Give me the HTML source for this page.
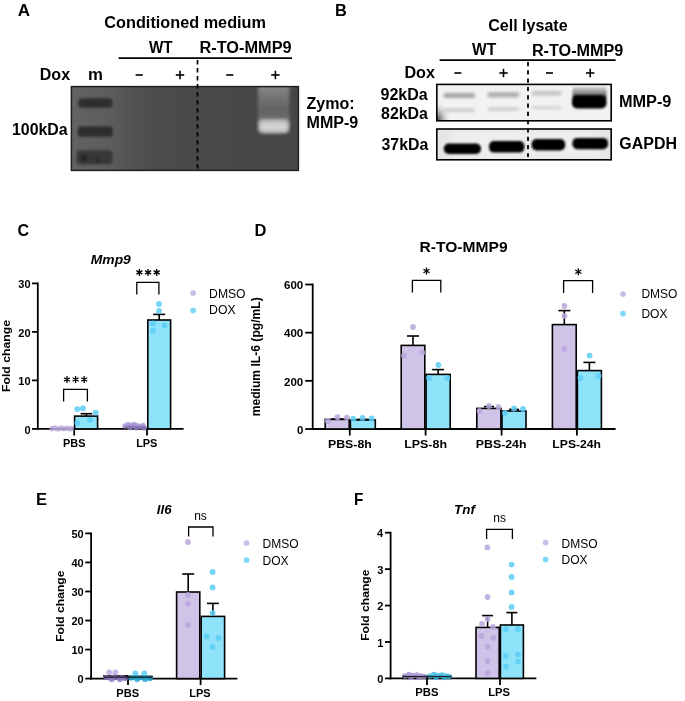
<!DOCTYPE html>
<html><head><meta charset="utf-8"><style>
html,body{margin:0;padding:0;background:#fff;}
body{width:685px;height:701px;overflow:hidden;}
svg{display:block;font-family:"Liberation Sans",sans-serif;}
</style></head><body>
<svg width="685" height="701" viewBox="0 0 685 701"><g style="will-change:transform">
<text x="17.77" y="15.80" font-size="17" font-weight="bold" font-style="normal" textLength="12.29" lengthAdjust="spacingAndGlyphs" fill="#000" >A</text>
<text x="104.35" y="27.70" font-size="16.5" font-weight="bold" font-style="normal" textLength="161.65" lengthAdjust="spacingAndGlyphs" fill="#000" >Conditioned medium</text>
<text x="148.96" y="52.80" font-size="16" font-weight="bold" font-style="normal" textLength="23.59" lengthAdjust="spacingAndGlyphs" fill="#000" >WT</text>
<text x="199.50" y="52.80" font-size="16" font-weight="bold" font-style="normal" textLength="92.08" lengthAdjust="spacingAndGlyphs" fill="#000" >R-TO-MMP9</text>
<line x1="118.6" y1="58.2" x2="292" y2="58.2" stroke="#000" stroke-width="1.7" />
<text x="39.82" y="79.60" font-size="16" font-weight="bold" font-style="normal" textLength="30.23" lengthAdjust="spacingAndGlyphs" fill="#000" >Dox</text>
<text x="88.01" y="79.60" font-size="16" font-weight="bold" font-style="normal" textLength="14.93" lengthAdjust="spacingAndGlyphs" fill="#000" >m</text>
<line x1="135.6" y1="75" x2="142.79999999999998" y2="75" stroke="#000" stroke-width="1.6" />
<line x1="226.2" y1="75" x2="233.39999999999998" y2="75" stroke="#000" stroke-width="1.6" />
<line x1="175.8" y1="75" x2="184.2" y2="75" stroke="#000" stroke-width="1.6" />
<line x1="180" y1="70.8" x2="180" y2="79.2" stroke="#000" stroke-width="1.6" />
<line x1="271.2" y1="75" x2="279.59999999999997" y2="75" stroke="#000" stroke-width="1.6" />
<line x1="275.4" y1="70.8" x2="275.4" y2="79.2" stroke="#000" stroke-width="1.6" />
<text x="12.01" y="135.00" font-size="16" font-weight="bold" font-style="normal" textLength="55.68" lengthAdjust="spacingAndGlyphs" fill="#000" >100kDa</text>
<text x="306.42" y="108.70" font-size="16" font-weight="bold" font-style="normal" textLength="48.21" lengthAdjust="spacingAndGlyphs" fill="#000" >Zymo:</text>
<text x="306.62" y="127.70" font-size="16" font-weight="bold" font-style="normal" textLength="51.68" lengthAdjust="spacingAndGlyphs" fill="#000" >MMP-9</text>
<defs><linearGradient id="gelg" x1="0" x2="1" y1="0" y2="0"><stop offset="0" stop-color="#636363"/><stop offset="0.17" stop-color="#5d5d5d"/><stop offset="0.25" stop-color="#545454"/><stop offset="0.35" stop-color="#4c4c4c"/><stop offset="0.6" stop-color="#494949"/><stop offset="1" stop-color="#464646"/></linearGradient><linearGradient id="haze" x1="0" x2="0" y1="0" y2="1"><stop offset="0" stop-color="#8e8e8e"/><stop offset="0.3" stop-color="#787878"/><stop offset="0.65" stop-color="#626262"/><stop offset="1" stop-color="#727272"/></linearGradient><linearGradient id="smear" x1="0" x2="0" y1="0" y2="1"><stop offset="0" stop-color="#d0d0d0"/><stop offset="0.5" stop-color="#8c8c8c"/><stop offset="1" stop-color="#222"/></linearGradient><filter id="b2" x="-50%" y="-50%" width="200%" height="200%"><feGaussianBlur stdDeviation="1.6"/></filter><filter id="b3" x="-50%" y="-50%" width="200%" height="200%"><feGaussianBlur stdDeviation="2.5"/></filter><filter id="b1" x="-50%" y="-50%" width="200%" height="200%"><feGaussianBlur stdDeviation="1.0"/></filter><filter id="b15" x="-50%" y="-50%" width="200%" height="200%"><feGaussianBlur stdDeviation="1.3"/></filter><filter id="b4" x="-50%" y="-50%" width="200%" height="200%"><feGaussianBlur stdDeviation="4"/></filter><clipPath id="gelclip"><rect x="71.4" y="86.4" width="227" height="84"/></clipPath><clipPath id="blot1"><rect x="436.8" y="84.4" width="174.4" height="36.4"/></clipPath><clipPath id="blot2"><rect x="436.8" y="129" width="174.4" height="30.8"/></clipPath></defs>
<rect x="71.40" y="86.40" width="227.00" height="84.00" fill="url(#gelg)" />
<g clip-path="url(#gelclip)">
<rect x="60" y="80" width="300" height="7" fill="#6a6a6a" filter="url(#b2)" opacity="0.6"/>
<rect x="78.5" y="98.3" width="33.8" height="9.4" rx="3" fill="#2e2e2e" filter="url(#b15)"/>
<rect x="77.8" y="126.4" width="35" height="10.4" rx="3" fill="#2e2e2e" filter="url(#b15)"/>
<rect x="76.5" y="150" width="36" height="14.5" rx="4" fill="#383838" filter="url(#b2)"/>
<circle cx="84" cy="158" r="3" fill="#222" filter="url(#b1)"/><circle cx="98" cy="160" r="2.5" fill="#2a2a2a" filter="url(#b1)"/>
<rect x="258" y="82" width="31.5" height="42" fill="url(#haze)" filter="url(#b2)"/>
<rect x="258" y="119" width="31.5" height="14.5" rx="5" fill="#b4b4b4" filter="url(#b2)"/>
<rect x="261" y="122.5" width="26" height="8" rx="4" fill="#d2d2d2" filter="url(#b2)"/>
</g>
<rect x="71.4" y="86.6" width="227" height="83.8" fill="none" stroke="#1e1e1e" stroke-width="1.5"/>
<line x1="197.5" y1="60.1" x2="197.5" y2="170.5" stroke="#000" stroke-width="1.7" stroke-dasharray="4.4,3.6"/>
<text x="334.99" y="15.80" font-size="17" font-weight="bold" font-style="normal" textLength="11.84" lengthAdjust="spacingAndGlyphs" fill="#000" >B</text>
<text x="488.16" y="30.80" font-size="16.5" font-weight="bold" font-style="normal" textLength="79.46" lengthAdjust="spacingAndGlyphs" fill="#000" >Cell lysate</text>
<text x="471.96" y="55.40" font-size="16" font-weight="bold" font-style="normal" textLength="24.19" lengthAdjust="spacingAndGlyphs" fill="#000" >WT</text>
<text x="531.91" y="55.50" font-size="16" font-weight="bold" font-style="normal" textLength="91.47" lengthAdjust="spacingAndGlyphs" fill="#000" >R-TO-MMP9</text>
<line x1="439.6" y1="60.2" x2="615.6" y2="60.2" stroke="#000" stroke-width="1.7" />
<text x="404.41" y="77.70" font-size="16" font-weight="bold" font-style="normal" textLength="30.54" lengthAdjust="spacingAndGlyphs" fill="#000" >Dox</text>
<line x1="454.4" y1="73" x2="461.4" y2="73" stroke="#000" stroke-width="1.6" />
<line x1="546" y1="73" x2="553" y2="73" stroke="#000" stroke-width="1.6" />
<line x1="499.3" y1="73" x2="507.7" y2="73" stroke="#000" stroke-width="1.6" />
<line x1="503.5" y1="68.8" x2="503.5" y2="77.2" stroke="#000" stroke-width="1.6" />
<line x1="586.0" y1="73" x2="594.4000000000001" y2="73" stroke="#000" stroke-width="1.6" />
<line x1="590.2" y1="68.8" x2="590.2" y2="77.2" stroke="#000" stroke-width="1.6" />
<text x="380.54" y="100.40" font-size="16" font-weight="bold" font-style="normal" textLength="47.27" lengthAdjust="spacingAndGlyphs" fill="#000" >92kDa</text>
<text x="381.08" y="118.80" font-size="16" font-weight="bold" font-style="normal" textLength="46.83" lengthAdjust="spacingAndGlyphs" fill="#000" >82kDa</text>
<text x="381.54" y="149.60" font-size="16" font-weight="bold" font-style="normal" textLength="46.67" lengthAdjust="spacingAndGlyphs" fill="#000" >37kDa</text>
<text x="618.90" y="107.00" font-size="16" font-weight="bold" font-style="normal" textLength="52.51" lengthAdjust="spacingAndGlyphs" fill="#000" >MMP-9</text>
<text x="619.36" y="148.50" font-size="16" font-weight="bold" font-style="normal" textLength="57.60" lengthAdjust="spacingAndGlyphs" fill="#000" >GAPDH</text>
<defs><radialGradient id="smudge" cx="0" cy="1" r="1"><stop offset="0" stop-color="#333" stop-opacity="0.95"/><stop offset="0.45" stop-color="#777" stop-opacity="0.5"/><stop offset="1" stop-color="#eee" stop-opacity="0"/></radialGradient></defs>
<rect x="436.80" y="84.40" width="174.40" height="36.40" fill="#f2f2f2" />
<g clip-path="url(#blot1)">
<rect x="437" y="100" width="14" height="21" fill="url(#smudge)"/>
<rect x="443.5" y="93.1" width="31.5" height="5" rx="2" fill="#a6a6a6" filter="url(#b2)"/>
<rect x="487.5" y="92.3" width="31.5" height="5" rx="2" fill="#acacac" filter="url(#b2)"/>
<rect x="531.5" y="91.0" width="30.0" height="4.4" rx="2" fill="#c4c4c4" filter="url(#b2)"/>
<rect x="443.5" y="108.3" width="31.5" height="3.8" rx="2" fill="#cbcbcb" filter="url(#b2)"/>
<rect x="487.5" y="107.3" width="31.5" height="3.8" rx="2" fill="#cdcdcd" filter="url(#b2)"/>
<rect x="531.5" y="106.0" width="30.0" height="3.6" rx="2" fill="#d4d4d4" filter="url(#b2)"/>
<rect x="572.5" y="87" width="34" height="12" rx="3" fill="url(#smear)" filter="url(#b15)"/>
<rect x="572" y="95.2" width="34.5" height="13.2" rx="5" fill="#000" filter="url(#b15)"/>
</g>
<rect x="436.80" y="84.40" width="174.40" height="36.40" fill="none" stroke="#000" stroke-width="1.6" />
<rect x="436.80" y="129.00" width="174.40" height="30.80" fill="#e6e6e6" />
<g clip-path="url(#blot2)">
<rect x="450" y="131" width="150" height="26" fill="#efefef" filter="url(#b4)"/>
<rect x="443.8" y="143.6" width="37.19999999999999" height="10.400000000000006" rx="5" fill="#000" filter="url(#b15)"/>
<rect x="489" y="141" width="35.39999999999998" height="11.599999999999994" rx="5" fill="#000" filter="url(#b15)"/>
<rect x="531.6" y="139" width="33.60000000000002" height="11.400000000000006" rx="5" fill="#000" filter="url(#b15)"/>
<rect x="572.4" y="137.9" width="35.60000000000002" height="11.400000000000006" rx="5" fill="#000" filter="url(#b15)"/>
</g>
<rect x="436.80" y="129.00" width="174.40" height="30.80" fill="none" stroke="#000" stroke-width="1.6" />
<line x1="528" y1="62" x2="528" y2="157" stroke="#000" stroke-width="1.8" stroke-dasharray="4.2,4.1"/>
<text x="17.56" y="235.60" font-size="16.5" font-weight="bold" font-style="normal" textLength="11.58" lengthAdjust="spacingAndGlyphs" fill="#000" >C</text>
<text x="90.76" y="264.10" font-size="13.5" font-weight="bold" font-style="italic" textLength="40.10" lengthAdjust="spacingAndGlyphs" fill="#000" >Mmp9</text>
<line x1="37.8" y1="282.5" x2="37.8" y2="429.79999999999995" stroke="#000" stroke-width="1.8" />
<line x1="31.999999999999996" y1="428.9" x2="37.8" y2="428.9" stroke="#000" stroke-width="1.8" />
<text x="24.44" y="433.60" font-size="11" font-weight="bold" fill="#000">0</text>
<line x1="31.999999999999996" y1="380.4" x2="37.8" y2="380.4" stroke="#000" stroke-width="1.8" />
<text x="18.33" y="385.10" font-size="11" font-weight="bold" fill="#000">10</text>
<line x1="31.999999999999996" y1="331.9" x2="37.8" y2="331.9" stroke="#000" stroke-width="1.8" />
<text x="18.33" y="336.60" font-size="11" font-weight="bold" fill="#000">20</text>
<line x1="31.999999999999996" y1="283.4" x2="37.8" y2="283.4" stroke="#000" stroke-width="1.8" />
<text x="18.33" y="288.10" font-size="11" font-weight="bold" fill="#000">30</text>
<text transform="translate(9.97,392.03) rotate(-90)" x="0" y="0" font-size="11" font-weight="bold" textLength="72.05" lengthAdjust="spacingAndGlyphs">Fold change</text>
<line x1="36.9" y1="428.9" x2="183.6" y2="428.9" stroke="#000" stroke-width="1.8" />
<line x1="74.2" y1="428.9" x2="74.2" y2="435.5" stroke="#000" stroke-width="1.8" />
<line x1="147" y1="428.9" x2="147" y2="435.5" stroke="#000" stroke-width="1.8" />
<text x="63.07" y="446.70" font-size="11" font-weight="bold" font-style="normal" textLength="22.35" lengthAdjust="spacingAndGlyphs" fill="#000" >PBS</text>
<text x="136.16" y="446.70" font-size="11" font-weight="bold" font-style="normal" textLength="21.27" lengthAdjust="spacingAndGlyphs" fill="#000" >LPS</text>
<circle cx="52" cy="428.5" r="2.7" fill="#b9a6dc" fill-opacity="0.75"/>
<circle cx="55" cy="428" r="2.7" fill="#b9a6dc" fill-opacity="0.75"/>
<circle cx="58" cy="429" r="2.7" fill="#b9a6dc" fill-opacity="0.75"/>
<circle cx="61" cy="428" r="2.7" fill="#b9a6dc" fill-opacity="0.75"/>
<circle cx="64" cy="428.8" r="2.7" fill="#b9a6dc" fill-opacity="0.75"/>
<circle cx="67" cy="428.2" r="2.7" fill="#b9a6dc" fill-opacity="0.75"/>
<circle cx="70" cy="428.8" r="2.7" fill="#b9a6dc" fill-opacity="0.75"/>
<circle cx="72" cy="428.5" r="2.7" fill="#b9a6dc" fill-opacity="0.75"/>
<rect x="74.60" y="416.10" width="23.00" height="12.80" fill="#8ee2fa" stroke="#000" stroke-width="1.6" />
<line x1="86.4" y1="416.1" x2="86.4" y2="413.7" stroke="#000" stroke-width="1.6" />
<line x1="80.60000000000001" y1="413.7" x2="92.2" y2="413.7" stroke="#000" stroke-width="1.6" />
<circle cx="77.3" cy="409.1" r="2.9" fill="#5ccdf5" fill-opacity="0.85"/>
<circle cx="82.9" cy="408.4" r="2.9" fill="#5ccdf5" fill-opacity="0.85"/>
<circle cx="95.7" cy="412.6" r="2.9" fill="#5ccdf5" fill-opacity="0.85"/>
<circle cx="77.3" cy="422.8" r="2.9" fill="#5ccdf5" fill-opacity="0.85"/>
<circle cx="89.9" cy="420.1" r="2.9" fill="#5ccdf5" fill-opacity="0.85"/>
<circle cx="125" cy="426" r="2.7" fill="#a08cd0" fill-opacity="0.75"/>
<circle cx="128" cy="424.5" r="2.7" fill="#a08cd0" fill-opacity="0.75"/>
<circle cx="131" cy="425.5" r="2.7" fill="#a08cd0" fill-opacity="0.75"/>
<circle cx="134" cy="424.5" r="2.7" fill="#a08cd0" fill-opacity="0.75"/>
<circle cx="137" cy="425.5" r="2.7" fill="#a08cd0" fill-opacity="0.75"/>
<circle cx="140" cy="426.5" r="2.7" fill="#a08cd0" fill-opacity="0.75"/>
<circle cx="143" cy="425.5" r="2.7" fill="#a08cd0" fill-opacity="0.75"/>
<circle cx="130" cy="427.5" r="2.7" fill="#a08cd0" fill-opacity="0.75"/>
<circle cx="136" cy="428" r="2.7" fill="#a08cd0" fill-opacity="0.75"/>
<circle cx="144" cy="428" r="2.7" fill="#a08cd0" fill-opacity="0.75"/>
<line x1="123.5" y1="427" x2="146.5" y2="427" stroke="#6a58a0" stroke-width="1" />
<rect x="147.80" y="320.00" width="22.80" height="108.90" fill="#8ee2fa" stroke="#000" stroke-width="1.6" />
<line x1="159.2" y1="320" x2="159.2" y2="314.4" stroke="#000" stroke-width="1.6" />
<line x1="153.2" y1="314.4" x2="165.2" y2="314.4" stroke="#000" stroke-width="1.6" />
<circle cx="159" cy="304" r="2.9" fill="#5ccdf5" fill-opacity="0.85"/>
<circle cx="159" cy="311" r="2.9" fill="#5ccdf5" fill-opacity="0.85"/>
<circle cx="153" cy="323.4" r="2.9" fill="#5ccdf5" fill-opacity="0.85"/>
<circle cx="164.6" cy="325.6" r="2.9" fill="#5ccdf5" fill-opacity="0.85"/>
<circle cx="153" cy="330.6" r="2.9" fill="#5ccdf5" fill-opacity="0.85"/>
<path d="M63.6,401.4V389.4H87.4V401.4" stroke="#000" stroke-width="1.3" fill="none"/>
<path d="M67.00,376.00L67.00,383.00M63.97,377.75L70.03,381.25M70.03,377.75L63.97,381.25" stroke="#000" stroke-width="1.3" fill="none"/>
<path d="M75.60,376.00L75.60,383.00M72.57,377.75L78.63,381.25M78.63,377.75L72.57,381.25" stroke="#000" stroke-width="1.3" fill="none"/>
<path d="M84.20,376.00L84.20,383.00M81.17,377.75L87.23,381.25M87.23,377.75L81.17,381.25" stroke="#000" stroke-width="1.3" fill="none"/>
<path d="M136.8,294.5V282.4H158.9V294.5" stroke="#000" stroke-width="1.3" fill="none"/>
<path d="M139.40,268.90L139.40,275.90M136.37,270.65L142.43,274.15M142.43,270.65L136.37,274.15" stroke="#000" stroke-width="1.3" fill="none"/>
<path d="M148.10,268.90L148.10,275.90M145.07,270.65L151.13,274.15M151.13,270.65L145.07,274.15" stroke="#000" stroke-width="1.3" fill="none"/>
<path d="M156.70,268.90L156.70,275.90M153.67,270.65L159.73,274.15M159.73,270.65L153.67,274.15" stroke="#000" stroke-width="1.3" fill="none"/>
<circle cx="193.1" cy="293" r="2.85" fill="#cbbde8" fill-opacity="1"/>
<circle cx="193.1" cy="310.5" r="2.85" fill="#7dd9f6" fill-opacity="1"/>
<text x="209.10" y="297.70" font-size="12" font-weight="normal" font-style="normal" textLength="36.48" lengthAdjust="spacingAndGlyphs" fill="#000" >DMSO</text>
<text x="209.09" y="314.30" font-size="12" font-weight="normal" font-style="normal" textLength="26.48" lengthAdjust="spacingAndGlyphs" fill="#000" >DOX</text>
<text x="254.49" y="235.60" font-size="16.5" font-weight="bold" font-style="normal" fill="#000" >D</text>
<text x="419.55" y="251.80" font-size="14.5" font-weight="bold" font-style="normal" textLength="88.01" lengthAdjust="spacingAndGlyphs" fill="#000" >R-TO-MMP9</text>
<line x1="312.7" y1="283.6" x2="312.7" y2="429.9" stroke="#000" stroke-width="1.8" />
<line x1="305.2" y1="429.0" x2="312.7" y2="429.0" stroke="#000" stroke-width="1.8" />
<text x="296.88" y="433.70" font-size="11.5" font-weight="bold" fill="#000">0</text>
<line x1="305.2" y1="380.8333333333333" x2="312.7" y2="380.8333333333333" stroke="#000" stroke-width="1.8" />
<text x="284.08" y="385.53" font-size="11.5" font-weight="bold" fill="#000">200</text>
<line x1="305.2" y1="332.66666666666663" x2="312.7" y2="332.66666666666663" stroke="#000" stroke-width="1.8" />
<text x="284.08" y="337.37" font-size="11.5" font-weight="bold" fill="#000">400</text>
<line x1="305.2" y1="284.5" x2="312.7" y2="284.5" stroke="#000" stroke-width="1.8" />
<text x="284.08" y="289.20" font-size="11.5" font-weight="bold" fill="#000">600</text>
<text transform="translate(259.70,416.29) rotate(-90)" x="0" y="0" font-size="12" font-weight="bold" textLength="119.00" lengthAdjust="spacingAndGlyphs">medium IL-6 (pg/mL)</text>
<line x1="311.8" y1="429" x2="615.6" y2="429" stroke="#000" stroke-width="1.8" />
<line x1="349.8" y1="429" x2="349.8" y2="435.5" stroke="#000" stroke-width="1.8" />
<line x1="425.6" y1="429" x2="425.6" y2="435.5" stroke="#000" stroke-width="1.8" />
<line x1="501.6" y1="429" x2="501.6" y2="435.5" stroke="#000" stroke-width="1.8" />
<line x1="576.9" y1="429" x2="576.9" y2="435.5" stroke="#000" stroke-width="1.8" />
<rect x="325.20" y="419.40" width="24.00" height="9.60" fill="#cfc3e8" stroke="#000" stroke-width="1.6" />
<rect x="350.40" y="419.90" width="24.90" height="9.10" fill="#8ee2fa" stroke="#000" stroke-width="1.6" />
<rect x="401.20" y="345.40" width="23.60" height="83.60" fill="#cfc3e8" stroke="#000" stroke-width="1.6" />
<rect x="426.10" y="374.40" width="24.10" height="54.60" fill="#8ee2fa" stroke="#000" stroke-width="1.6" />
<line x1="413.0" y1="345.4" x2="413.0" y2="336" stroke="#000" stroke-width="1.6" />
<line x1="407.0" y1="336" x2="419.0" y2="336" stroke="#000" stroke-width="1.6" />
<line x1="438.15" y1="374.4" x2="438.15" y2="369.6" stroke="#000" stroke-width="1.6" />
<line x1="432.15" y1="369.6" x2="444.15" y2="369.6" stroke="#000" stroke-width="1.6" />
<rect x="476.80" y="408.40" width="24.10" height="20.60" fill="#cfc3e8" stroke="#000" stroke-width="1.6" />
<rect x="502.00" y="411.00" width="24.00" height="18.00" fill="#8ee2fa" stroke="#000" stroke-width="1.6" />
<rect x="552.40" y="324.60" width="23.80" height="104.40" fill="#cfc3e8" stroke="#000" stroke-width="1.6" />
<rect x="577.40" y="370.60" width="24.00" height="58.40" fill="#8ee2fa" stroke="#000" stroke-width="1.6" />
<line x1="564.3" y1="324.6" x2="564.3" y2="310.6" stroke="#000" stroke-width="1.6" />
<line x1="558.3" y1="310.6" x2="570.3" y2="310.6" stroke="#000" stroke-width="1.6" />
<line x1="589.4" y1="370.6" x2="589.4" y2="362.4" stroke="#000" stroke-width="1.6" />
<line x1="583.4" y1="362.4" x2="595.4" y2="362.4" stroke="#000" stroke-width="1.6" />
<line x1="337.4" y1="419.4" x2="337.4" y2="419" stroke="#000" stroke-width="1.6" />
<line x1="331.4" y1="419" x2="343.4" y2="419" stroke="#000" stroke-width="1.6" />
<line x1="362.8" y1="419.9" x2="362.8" y2="419.4" stroke="#000" stroke-width="1.6" />
<line x1="356.8" y1="419.4" x2="368.8" y2="419.4" stroke="#000" stroke-width="1.6" />
<line x1="489" y1="408.4" x2="489" y2="406.6" stroke="#000" stroke-width="1.6" />
<line x1="484" y1="406.6" x2="494" y2="406.6" stroke="#000" stroke-width="1.6" />
<line x1="514" y1="411" x2="514" y2="409.4" stroke="#000" stroke-width="1.6" />
<line x1="509" y1="409.4" x2="519" y2="409.4" stroke="#000" stroke-width="1.6" />
<circle cx="413" cy="327" r="2.9" fill="#b9a6dc" fill-opacity="0.85"/>
<circle cx="404" cy="355.4" r="2.9" fill="#b9a6dc" fill-opacity="0.85"/>
<circle cx="422.4" cy="352.6" r="2.9" fill="#b9a6dc" fill-opacity="0.85"/>
<circle cx="327.8" cy="421" r="2.9" fill="#b9a6dc" fill-opacity="0.85"/>
<circle cx="337.5" cy="417.2" r="2.9" fill="#b9a6dc" fill-opacity="0.85"/>
<circle cx="346.9" cy="417.6" r="2.9" fill="#b9a6dc" fill-opacity="0.85"/>
<circle cx="564.4" cy="306" r="2.9" fill="#b9a6dc" fill-opacity="0.85"/>
<circle cx="564.4" cy="316" r="2.9" fill="#b9a6dc" fill-opacity="0.85"/>
<circle cx="564.4" cy="349" r="2.9" fill="#b9a6dc" fill-opacity="0.85"/>
<circle cx="479.5" cy="411" r="2.9" fill="#b9a6dc" fill-opacity="0.85"/>
<circle cx="489" cy="406" r="2.9" fill="#b9a6dc" fill-opacity="0.85"/>
<circle cx="498.5" cy="407" r="2.9" fill="#b9a6dc" fill-opacity="0.85"/>
<circle cx="438.4" cy="365" r="2.9" fill="#5ccdf5" fill-opacity="0.85"/>
<circle cx="429" cy="378" r="2.9" fill="#5ccdf5" fill-opacity="0.85"/>
<circle cx="447.4" cy="378" r="2.9" fill="#5ccdf5" fill-opacity="0.85"/>
<circle cx="353.3" cy="418.7" r="2.9" fill="#5ccdf5" fill-opacity="0.85"/>
<circle cx="362.5" cy="417.9" r="2.9" fill="#5ccdf5" fill-opacity="0.85"/>
<circle cx="371.7" cy="418.4" r="2.9" fill="#5ccdf5" fill-opacity="0.85"/>
<circle cx="589.6" cy="355.6" r="2.9" fill="#5ccdf5" fill-opacity="0.85"/>
<circle cx="580.4" cy="378" r="2.9" fill="#5ccdf5" fill-opacity="0.85"/>
<circle cx="598.6" cy="376" r="2.9" fill="#5ccdf5" fill-opacity="0.85"/>
<circle cx="505" cy="413" r="2.9" fill="#5ccdf5" fill-opacity="0.85"/>
<circle cx="514" cy="408.5" r="2.9" fill="#5ccdf5" fill-opacity="0.85"/>
<circle cx="523" cy="409" r="2.9" fill="#5ccdf5" fill-opacity="0.85"/>
<text x="327.97" y="447.60" font-size="11.6" font-weight="bold" font-style="normal" textLength="43.78" lengthAdjust="spacingAndGlyphs" fill="#000" >PBS-8h</text>
<text x="404.16" y="447.60" font-size="11.6" font-weight="bold" font-style="normal" textLength="42.89" lengthAdjust="spacingAndGlyphs" fill="#000" >LPS-8h</text>
<text x="475.77" y="447.60" font-size="11.6" font-weight="bold" font-style="normal" textLength="50.77" lengthAdjust="spacingAndGlyphs" fill="#000" >PBS-24h</text>
<text x="552.38" y="447.60" font-size="11.6" font-weight="bold" font-style="normal" textLength="48.66" lengthAdjust="spacingAndGlyphs" fill="#000" >LPS-24h</text>
<path d="M412.4,292.6V280.4H440.8V292.6" stroke="#000" stroke-width="1.3" fill="none"/>
<path d="M426.50,267.50L426.50,274.50M423.47,269.25L429.53,272.75M429.53,269.25L423.47,272.75" stroke="#000" stroke-width="1.3" fill="none"/>
<path d="M563.6,293V280.6H592.6V293" stroke="#000" stroke-width="1.3" fill="none"/>
<path d="M578.30,268.20L578.30,275.20M575.27,269.95L581.33,273.45M581.33,269.95L575.27,273.45" stroke="#000" stroke-width="1.3" fill="none"/>
<circle cx="623" cy="294" r="2.85" fill="#cbbde8" fill-opacity="1"/>
<circle cx="623" cy="313.6" r="2.85" fill="#7dd9f6" fill-opacity="1"/>
<text x="641.41" y="298.40" font-size="12" font-weight="normal" font-style="normal" fill="#000" >DMSO</text>
<text x="641.41" y="318.00" font-size="12" font-weight="normal" font-style="normal" fill="#000" >DOX</text>
<text x="35.89" y="505.00" font-size="16.5" font-weight="bold" font-style="normal" fill="#000" >E</text>
<text x="156.77" y="514.40" font-size="13" font-weight="bold" font-style="italic" textLength="14.76" lengthAdjust="spacingAndGlyphs" fill="#000" >Il6</text>
<line x1="91.1" y1="532.5" x2="91.1" y2="679.5" stroke="#000" stroke-width="1.8" />
<line x1="85.3" y1="678.6" x2="91.1" y2="678.6" stroke="#000" stroke-width="1.8" />
<text x="77.53" y="683.30" font-size="11" font-weight="bold" fill="#000">0</text>
<line x1="85.3" y1="649.5600000000001" x2="91.1" y2="649.5600000000001" stroke="#000" stroke-width="1.8" />
<text x="71.43" y="654.26" font-size="11" font-weight="bold" fill="#000">10</text>
<line x1="85.3" y1="620.52" x2="91.1" y2="620.52" stroke="#000" stroke-width="1.8" />
<text x="71.43" y="625.22" font-size="11" font-weight="bold" fill="#000">20</text>
<line x1="85.3" y1="591.48" x2="91.1" y2="591.48" stroke="#000" stroke-width="1.8" />
<text x="71.43" y="596.18" font-size="11" font-weight="bold" fill="#000">30</text>
<line x1="85.3" y1="562.44" x2="91.1" y2="562.44" stroke="#000" stroke-width="1.8" />
<text x="71.43" y="567.14" font-size="11" font-weight="bold" fill="#000">40</text>
<line x1="85.3" y1="533.4" x2="91.1" y2="533.4" stroke="#000" stroke-width="1.8" />
<text x="71.43" y="538.10" font-size="11" font-weight="bold" fill="#000">50</text>
<text transform="translate(63.58,641.82) rotate(-90)" x="0" y="0" font-size="11" font-weight="bold" textLength="71.23" lengthAdjust="spacingAndGlyphs">Fold change</text>
<line x1="90.19999999999999" y1="678.6" x2="237.4" y2="678.6" stroke="#000" stroke-width="1.8" />
<line x1="128" y1="678.6" x2="128" y2="685" stroke="#000" stroke-width="1.8" />
<line x1="200.6" y1="678.6" x2="200.6" y2="685" stroke="#000" stroke-width="1.8" />
<text x="116.25" y="697.00" font-size="11" font-weight="bold" font-style="normal" textLength="22.78" lengthAdjust="spacingAndGlyphs" fill="#000" >PBS</text>
<text x="189.26" y="697.00" font-size="11" font-weight="bold" font-style="normal" fill="#000" >LPS</text>
<rect x="104.00" y="675.80" width="23.40" height="2.80" fill="#cfc3e8" stroke="#000" stroke-width="1.6" />
<rect x="128.60" y="676.40" width="23.40" height="2.20" fill="#8ee2fa" stroke="#000" stroke-width="1.6" />
<circle cx="109.2" cy="672.3" r="2.9" fill="#b9a6dc" fill-opacity="0.8"/>
<circle cx="115.4" cy="672.3" r="2.9" fill="#b9a6dc" fill-opacity="0.8"/>
<circle cx="106" cy="677.5" r="2.8" fill="#8f7bc4" fill-opacity="0.8"/>
<circle cx="110" cy="678" r="2.8" fill="#8f7bc4" fill-opacity="0.8"/>
<circle cx="114" cy="677" r="2.8" fill="#8f7bc4" fill-opacity="0.8"/>
<circle cx="118" cy="678" r="2.8" fill="#8f7bc4" fill-opacity="0.8"/>
<circle cx="122" cy="677.5" r="2.8" fill="#8f7bc4" fill-opacity="0.8"/>
<circle cx="125" cy="678.5" r="2.8" fill="#8f7bc4" fill-opacity="0.8"/>
<circle cx="112" cy="679.5" r="2.8" fill="#8f7bc4" fill-opacity="0.8"/>
<circle cx="120" cy="679.5" r="2.8" fill="#8f7bc4" fill-opacity="0.8"/>
<circle cx="135.3" cy="673.3" r="2.9" fill="#5ccdf5" fill-opacity="0.85"/>
<circle cx="144.3" cy="673.3" r="2.9" fill="#5ccdf5" fill-opacity="0.85"/>
<circle cx="131" cy="678" r="2.8" fill="#2aa8d4" fill-opacity="0.8"/>
<circle cx="135" cy="677.5" r="2.8" fill="#2aa8d4" fill-opacity="0.8"/>
<circle cx="139" cy="678" r="2.8" fill="#2aa8d4" fill-opacity="0.8"/>
<circle cx="143" cy="677.5" r="2.8" fill="#2aa8d4" fill-opacity="0.8"/>
<circle cx="147" cy="678" r="2.8" fill="#2aa8d4" fill-opacity="0.8"/>
<circle cx="150" cy="678.5" r="2.8" fill="#2aa8d4" fill-opacity="0.8"/>
<circle cx="137" cy="679.5" r="2.8" fill="#2aa8d4" fill-opacity="0.8"/>
<circle cx="145" cy="679.5" r="2.8" fill="#2aa8d4" fill-opacity="0.8"/>
<line x1="104" y1="677.2" x2="152" y2="677.2" stroke="#111" stroke-width="1.2" />
<rect x="176.60" y="592.00" width="23.20" height="86.60" fill="#cfc3e8" stroke="#000" stroke-width="1.6" />
<rect x="201.20" y="616.40" width="23.40" height="62.20" fill="#8ee2fa" stroke="#000" stroke-width="1.6" />
<line x1="188.2" y1="592" x2="188.2" y2="574" stroke="#000" stroke-width="1.6" />
<line x1="182.2" y1="574" x2="194.2" y2="574" stroke="#000" stroke-width="1.6" />
<line x1="212.9" y1="616.4" x2="212.9" y2="603.4" stroke="#000" stroke-width="1.6" />
<line x1="206.9" y1="603.4" x2="218.9" y2="603.4" stroke="#000" stroke-width="1.6" />
<circle cx="188" cy="542" r="2.9" fill="#b9a6dc" fill-opacity="0.85"/>
<circle cx="188" cy="595" r="2.9" fill="#b9a6dc" fill-opacity="0.85"/>
<circle cx="188" cy="603.6" r="2.9" fill="#b9a6dc" fill-opacity="0.85"/>
<circle cx="188" cy="625" r="2.9" fill="#b9a6dc" fill-opacity="0.85"/>
<circle cx="212.6" cy="572" r="2.9" fill="#5ccdf5" fill-opacity="0.85"/>
<circle cx="212.6" cy="587.4" r="2.9" fill="#5ccdf5" fill-opacity="0.85"/>
<circle cx="212.6" cy="613" r="2.9" fill="#5ccdf5" fill-opacity="0.85"/>
<circle cx="206.6" cy="636.6" r="2.9" fill="#5ccdf5" fill-opacity="0.85"/>
<circle cx="218.6" cy="638" r="2.9" fill="#5ccdf5" fill-opacity="0.85"/>
<circle cx="212.6" cy="647" r="2.9" fill="#5ccdf5" fill-opacity="0.85"/>
<path d="M188.6,536.6V527H213V536.6" stroke="#000" stroke-width="1.3" fill="none"/>
<text x="194.17" y="520.20" font-size="12" font-weight="normal" font-style="normal" fill="#000">ns</text>
<circle cx="246.6" cy="543" r="2.85" fill="#cbbde8" fill-opacity="1"/>
<circle cx="246.6" cy="560" r="2.85" fill="#7dd9f6" fill-opacity="1"/>
<text x="262.61" y="547.60" font-size="12" font-weight="normal" font-style="normal" fill="#000" >DMSO</text>
<text x="262.61" y="564.60" font-size="12" font-weight="normal" font-style="normal" fill="#000" >DOX</text>
<text x="353.96" y="505.20" font-size="16.5" font-weight="bold" font-style="normal" textLength="9.39" lengthAdjust="spacingAndGlyphs" fill="#000" >F</text>
<text x="454.03" y="514.00" font-size="13" font-weight="bold" font-style="italic" textLength="20.86" lengthAdjust="spacingAndGlyphs" fill="#000" >Tnf</text>
<line x1="390.6" y1="531.8000000000001" x2="390.6" y2="679.3" stroke="#000" stroke-width="1.8" />
<line x1="385.0" y1="678.4" x2="390.6" y2="678.4" stroke="#000" stroke-width="1.8" />
<text x="377.33" y="683.10" font-size="11" font-weight="bold" fill="#000">0</text>
<line x1="385.0" y1="641.975" x2="390.6" y2="641.975" stroke="#000" stroke-width="1.8" />
<text x="377.20" y="646.68" font-size="11" font-weight="bold" fill="#000">1</text>
<line x1="385.0" y1="605.55" x2="390.6" y2="605.55" stroke="#000" stroke-width="1.8" />
<text x="377.33" y="610.25" font-size="11" font-weight="bold" fill="#000">2</text>
<line x1="385.0" y1="569.125" x2="390.6" y2="569.125" stroke="#000" stroke-width="1.8" />
<text x="377.28" y="573.83" font-size="11" font-weight="bold" fill="#000">3</text>
<line x1="385.0" y1="532.7" x2="390.6" y2="532.7" stroke="#000" stroke-width="1.8" />
<text x="376.95" y="537.40" font-size="11" font-weight="bold" fill="#000">4</text>
<text transform="translate(368.98,640.82) rotate(-90)" x="0" y="0" font-size="11" font-weight="bold" textLength="71.23" lengthAdjust="spacingAndGlyphs">Fold change</text>
<line x1="389.70000000000005" y1="678.4" x2="536.4" y2="678.4" stroke="#000" stroke-width="1.8" />
<line x1="427" y1="678.4" x2="427" y2="685" stroke="#000" stroke-width="1.8" />
<line x1="500" y1="678.4" x2="500" y2="685" stroke="#000" stroke-width="1.8" />
<text x="415.24" y="696.20" font-size="11" font-weight="bold" font-style="normal" textLength="23.20" lengthAdjust="spacingAndGlyphs" fill="#000" >PBS</text>
<text x="488.24" y="696.20" font-size="11" font-weight="bold" font-style="normal" textLength="21.80" lengthAdjust="spacingAndGlyphs" fill="#000" >LPS</text>
<rect x="403.00" y="676.00" width="23.40" height="2.40" fill="#cfc3e8" stroke="#000" stroke-width="1.6" />
<rect x="427.60" y="676.00" width="23.40" height="2.40" fill="#8ee2fa" stroke="#000" stroke-width="1.6" />
<circle cx="405" cy="676" r="2.8" fill="#a18ed0" fill-opacity="0.8"/>
<circle cx="409" cy="674.5" r="2.8" fill="#a18ed0" fill-opacity="0.8"/>
<circle cx="413" cy="675.5" r="2.8" fill="#a18ed0" fill-opacity="0.8"/>
<circle cx="417" cy="675" r="2.8" fill="#a18ed0" fill-opacity="0.8"/>
<circle cx="421" cy="676" r="2.8" fill="#a18ed0" fill-opacity="0.8"/>
<circle cx="424" cy="676.5" r="2.8" fill="#a18ed0" fill-opacity="0.8"/>
<circle cx="411" cy="677.5" r="2.8" fill="#a18ed0" fill-opacity="0.8"/>
<circle cx="419" cy="677.5" r="2.8" fill="#a18ed0" fill-opacity="0.8"/>
<circle cx="430" cy="676" r="2.8" fill="#3cb9e2" fill-opacity="0.8"/>
<circle cx="434" cy="674.5" r="2.8" fill="#3cb9e2" fill-opacity="0.8"/>
<circle cx="438" cy="675.5" r="2.8" fill="#3cb9e2" fill-opacity="0.8"/>
<circle cx="442" cy="675" r="2.8" fill="#3cb9e2" fill-opacity="0.8"/>
<circle cx="446" cy="676" r="2.8" fill="#3cb9e2" fill-opacity="0.8"/>
<circle cx="449" cy="676.5" r="2.8" fill="#3cb9e2" fill-opacity="0.8"/>
<circle cx="436" cy="677.5" r="2.8" fill="#3cb9e2" fill-opacity="0.8"/>
<circle cx="444" cy="677.5" r="2.8" fill="#3cb9e2" fill-opacity="0.8"/>
<line x1="403" y1="676.6" x2="451" y2="676.6" stroke="#222" stroke-width="1.1" />
<rect x="476.00" y="627.40" width="23.20" height="51.00" fill="#cfc3e8" stroke="#000" stroke-width="1.6" />
<rect x="500.40" y="625.00" width="23.00" height="53.40" fill="#8ee2fa" stroke="#000" stroke-width="1.6" />
<line x1="487.6" y1="627.4" x2="487.6" y2="615.6" stroke="#000" stroke-width="1.6" />
<line x1="482.1" y1="615.6" x2="493.1" y2="615.6" stroke="#000" stroke-width="1.6" />
<line x1="511.9" y1="625" x2="511.9" y2="612.6" stroke="#000" stroke-width="1.6" />
<line x1="506.4" y1="612.6" x2="517.4" y2="612.6" stroke="#000" stroke-width="1.6" />
<circle cx="487.4" cy="547.4" r="2.9" fill="#b9a6dc" fill-opacity="0.85"/>
<circle cx="487.6" cy="597" r="2.9" fill="#b9a6dc" fill-opacity="0.85"/>
<circle cx="487.6" cy="619" r="2.9" fill="#b9a6dc" fill-opacity="0.85"/>
<circle cx="482" cy="624" r="2.9" fill="#b9a6dc" fill-opacity="0.85"/>
<circle cx="493" cy="627" r="2.9" fill="#b9a6dc" fill-opacity="0.85"/>
<circle cx="481.4" cy="636" r="2.9" fill="#b9a6dc" fill-opacity="0.85"/>
<circle cx="493.4" cy="638" r="2.9" fill="#b9a6dc" fill-opacity="0.85"/>
<circle cx="487.6" cy="646.6" r="2.9" fill="#b9a6dc" fill-opacity="0.85"/>
<circle cx="487.6" cy="661" r="2.9" fill="#b9a6dc" fill-opacity="0.85"/>
<circle cx="487.6" cy="673" r="2.9" fill="#b9a6dc" fill-opacity="0.85"/>
<circle cx="511.6" cy="564.6" r="2.9" fill="#5ccdf5" fill-opacity="0.85"/>
<circle cx="511.6" cy="577" r="2.9" fill="#5ccdf5" fill-opacity="0.85"/>
<circle cx="511.6" cy="592.4" r="2.9" fill="#5ccdf5" fill-opacity="0.85"/>
<circle cx="511.6" cy="607" r="2.9" fill="#5ccdf5" fill-opacity="0.85"/>
<circle cx="506" cy="629.4" r="2.9" fill="#5ccdf5" fill-opacity="0.85"/>
<circle cx="518" cy="629" r="2.9" fill="#5ccdf5" fill-opacity="0.85"/>
<circle cx="506" cy="656" r="2.9" fill="#5ccdf5" fill-opacity="0.85"/>
<circle cx="518" cy="654.4" r="2.9" fill="#5ccdf5" fill-opacity="0.85"/>
<circle cx="518" cy="661.6" r="2.9" fill="#5ccdf5" fill-opacity="0.85"/>
<circle cx="506" cy="666.6" r="2.9" fill="#5ccdf5" fill-opacity="0.85"/>
<path d="M486.6,539V529.4H512.4V539" stroke="#000" stroke-width="1.3" fill="none"/>
<text x="493.28" y="521.60" font-size="12" font-weight="normal" font-style="normal" fill="#000">ns</text>
<circle cx="545.6" cy="542.6" r="2.85" fill="#cbbde8" fill-opacity="1"/>
<circle cx="545.6" cy="559.6" r="2.85" fill="#7dd9f6" fill-opacity="1"/>
<text x="561.61" y="547.60" font-size="12" font-weight="normal" font-style="normal" fill="#000" >DMSO</text>
<text x="561.61" y="564.40" font-size="12" font-weight="normal" font-style="normal" fill="#000" >DOX</text>
</g>
</svg>
</body></html>
